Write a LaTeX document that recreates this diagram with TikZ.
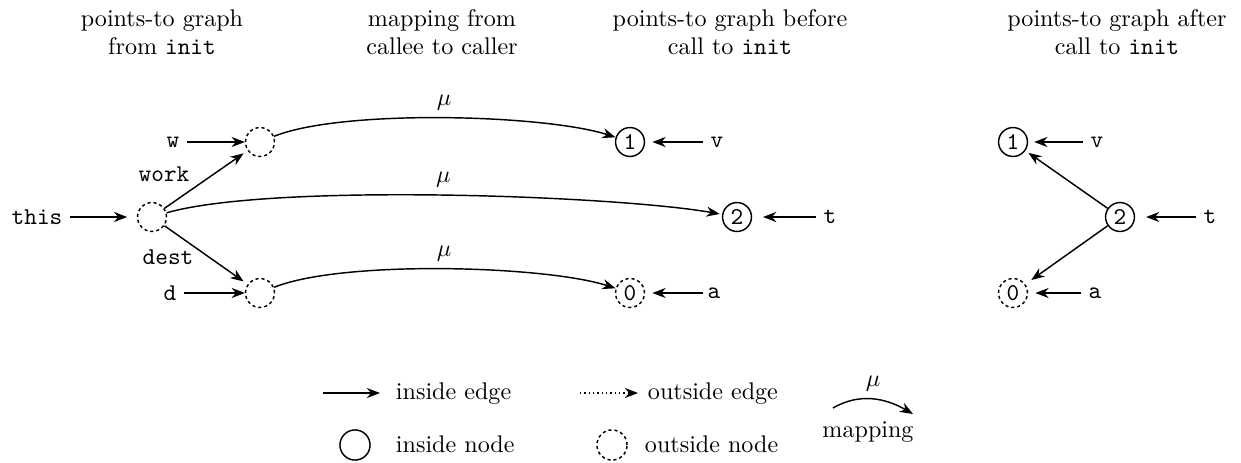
\documentclass[tikz,border=0pt]{standalone}
\usetikzlibrary{arrows.meta}
\begin{document}
\begin{tikzpicture}[x=0.415pt,y=-0.415pt,line width=0.6pt,
  >={Stealth[length=5.5pt,width=4.2pt]},
  innode/.style={circle,draw,minimum size=12pt,inner sep=0pt,font=\ttfamily},
  outnode/.style={innode,dash pattern=on 1.3pt off 1.2pt},
  lbl/.style={font=\ttfamily,inner sep=3pt},
  title/.style={align=center,font=\fontsize{10}{11.5}\selectfont},
  leg/.style={anchor=base west,inner sep=3pt},
  mulbl/.style={above,inner sep=3pt}]
\useasboundingbox (0,0) rectangle (1241,462);
% titles
\node[title] (T1) at (162,32) {points-to graph\\from \texttt{init}};
\node[title] (T2) at (442,32) {mapping from\\callee to caller};
\node[title] (T3) at (730,32) {points-to graph before\\call to \texttt{init}};
\node[title] (T4) at (1117,32) {points-to graph after\\call to \texttt{init}};
% left graph
\node[outnode] (this) at (152,217) {};
\node[outnode] (wn) at (260,142) {};
\node[outnode] (dn) at (260,293) {};
\node[lbl] (lthis) at (37,217) {this};
\node[lbl] (lw) at (173,142) {w};
\node[lbl] (ld) at (170,293) {d};
\node[lbl] (work) at (164,174) {work};
\node[lbl] (dest) at (168,257) {dest};
\draw[->,shorten >=4pt] (lthis) -- (this);
\draw[->] (lw) -- (wn);
\draw[->] (ld) -- (dn);
\draw[->,shorten >=2pt] (this) -- (wn);
\draw[->,shorten >=2pt] (this) -- (dn);
% middle graph
\node[innode] (m1) at (630,142) {1};
\node[innode] (m2) at (737,217) {2};
\node[outnode] (m0) at (630,293) {0};
\node[lbl] (mv) at (717,142) {v};
\node[lbl] (mt) at (830,217) {t};
\node[lbl] (ma) at (714,293) {a};
\draw[->,shorten >=3pt] (mv) -- (m1);
\draw[->,shorten >=4.5pt] (mt) -- (m2);
\draw[->,shorten >=3pt,shorten <=-1.5pt] (ma) -- (m0);
% mappings
\draw[->] (wn) to[out=22,in=162,looseness=0.55] node[mulbl,pos=0.5] (mu1) {$\mu$} (m1);
\draw[->,shorten >=1pt] (this) to[out=16,in=170,looseness=0.5] node[mulbl,pos=0.5] (mu2) {$\mu$} (m2);
\draw[->] (dn) to[out=22,in=162,looseness=0.55] node[mulbl,pos=0.5] (mu3) {$\mu$} (m0);
% right graph
\node[innode] (r1) at (1013,142) {1};
\node[innode] (r2) at (1120,217) {2};
\node[outnode] (r0) at (1013,293) {0};
\node[lbl] (rv) at (1097,142) {v};
\node[lbl] (rt) at (1210,217) {t};
\node[lbl] (ra) at (1095,293) {a};
\draw[->,shorten >=2.5pt] (rv) -- (r1);
\draw[->,shorten >=4.5pt] (rt) -- (r2);
\draw[->,shorten >=3pt] (ra) -- (r0);
\draw[->,shorten >=1.5pt] (r2) -- (r1);
\draw[->,shorten >=3pt] (r2) -- (r0);
% legend
\coordinate (ie1) at (323,393);
\coordinate (ie2) at (380,393);
\draw[->] (ie1) -- (ie2);
\node[leg] (iet) at (388,399) {inside edge};
\node[innode,minimum size=12.5pt] (ic) at (355,445) {};
\node[leg] (int) at (388,452) {inside node};
\coordinate (oe1) at (580,393);
\coordinate (oe2) at (638,393);
\draw[->,dash pattern=on 0.6pt off 1.2pt] (oe1) -- (oe2);
\node[leg] (oet) at (640,399) {outside edge};
\node[outnode,minimum size=12.5pt] (oc) at (612,445) {};
\node[leg] (ont) at (637,452) {outside node};
\coordinate (mp1) at (833,408);
\coordinate (mp2) at (913,414);
\draw[->] (mp1) to[out=30,in=150] node[mulbl] (mu4) {$\mu$} (mp2);
\node[anchor=base,inner sep=3pt] (mpt) at (868,437) {mapping};
\end{tikzpicture}
\end{document}
